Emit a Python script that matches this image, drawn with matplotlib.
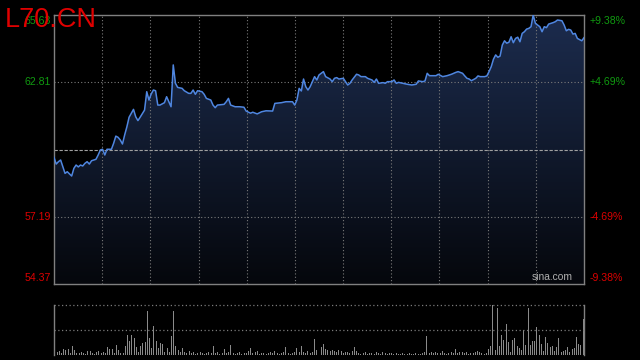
import matplotlib
matplotlib.use('Agg')
import matplotlib.pyplot as plt
import matplotlib.transforms as mtransforms
from matplotlib.colors import LinearSegmentedColormap
import numpy as np

plt.rcParams['font.family'] = ['Liberation Sans', 'DejaVu Sans']

symbol = "L70.CN"
prev_close = 60.00
price_low, price_high = 54.37, 65.63
price_ticks = [65.63, 62.81, 57.19, 54.37]
pct_ticks = ["+9.38%", "+4.69%", "-4.69%", "-9.38%"]

# minute index (0..240) of the intraday line and the price at that minute
minutes = [0, 1, 2, 3, 5, 6, 8, 9, 10, 11, 12, 13, 14, 15, 16, 17, 19, 20, 21, 22,
           23, 24, 26, 27, 28, 29, 30, 31, 32, 33, 34, 36, 37, 38, 39, 41, 42, 43, 44, 45,
           46, 47, 48, 50, 51, 52, 53, 54, 55, 56, 58, 59, 61, 62, 63, 64, 65, 67, 68, 69,
           71, 72, 73, 74, 77, 78, 79, 80, 82, 84, 86, 87, 89, 90, 92, 94, 96, 99, 100, 103,
           105, 108, 109, 110, 111, 112, 113, 114, 115, 116, 118, 119, 120, 122, 123, 125, 126, 127, 128, 129,
           131, 132, 133, 134, 135, 137, 138, 139, 141, 142, 144, 145, 146, 147, 149, 150, 151, 153, 154, 155,
           156, 158, 160, 162, 164, 165, 167, 168, 169, 170, 173, 174, 176, 178, 180, 182, 183, 185, 186, 187,
           188, 189, 191, 192, 193, 195, 196, 197, 198, 199, 200, 201, 202, 203, 204, 205, 206, 207, 208, 209,
           210, 211, 212, 213, 214, 215, 216, 217, 218, 219, 220, 221, 222, 223, 224, 226, 227, 228, 230, 231,
           232, 233, 234, 235, 236, 237, 239, 240]
prices = [59.67, 59.39, 59.49, 59.56, 59.00, 59.07, 58.89, 59.21, 59.35, 59.27, 59.35, 59.31, 59.42, 59.49, 59.39, 59.53, 59.59, 59.77, 59.98, 60.01,
          59.77, 60.01, 60.01, 60.26, 60.56, 60.51, 60.40, 60.23, 60.61, 60.95, 61.35, 61.68, 61.37, 61.21, 61.35, 61.65, 62.42, 62.07, 62.32, 62.49,
          62.46, 61.86, 61.86, 61.96, 62.21, 62.00, 61.79, 63.54, 62.77, 62.60, 62.56, 62.46, 62.35, 62.35, 62.49, 62.31, 62.46, 62.42, 62.31, 62.14,
          62.07, 61.86, 61.75, 61.86, 61.89, 62.00, 62.14, 61.86, 61.79, 61.79, 61.77, 61.61, 61.52, 61.56, 61.49, 61.58, 61.62, 61.61, 61.93, 61.96,
          62.00, 62.00, 61.86, 62.07, 62.56, 62.45, 62.95, 62.63, 62.49, 62.63, 63.05, 62.91, 63.12, 63.26, 63.05, 62.95, 62.84, 62.98, 63.01, 62.95,
          62.98, 62.84, 62.70, 62.77, 62.91, 63.15, 63.12, 63.05, 63.05, 62.98, 62.91, 62.81, 62.95, 62.77, 62.80, 62.77, 62.84, 62.84, 62.91, 62.77,
          62.81, 62.77, 62.73, 62.70, 62.73, 62.87, 62.84, 62.87, 63.19, 63.09, 63.09, 63.15, 63.05, 63.09, 63.15, 63.23, 63.26, 63.19, 63.08, 62.98,
          62.95, 62.88, 62.98, 63.08, 63.05, 63.05, 63.08, 63.26, 63.47, 63.78, 63.96, 63.86, 63.91, 64.37, 64.55, 64.45, 64.49, 64.72, 64.47, 64.65,
          64.70, 64.51, 64.86, 64.93, 65.04, 65.07, 65.14, 65.63, 65.28, 65.21, 65.14, 64.93, 65.14, 65.10, 65.25, 65.31, 65.35, 65.42, 65.39, 65.21,
          64.97, 65.03, 65.00, 64.83, 64.86, 64.65, 64.55, 64.68]

# volume per minute (relative units, max = 50)
volume = [7, 3, 4, 2, 6, 5, 6, 2, 9, 5,
          2, 2, 3, 2, 1, 4, 4, 2, 1, 3,
          4, 2, 3, 2, 8, 6, 6, 2, 10, 5,
          2, 2, 9, 20, 14, 20, 17, 8, 3, 9,
          12, 13, 44, 17, 7, 29, 14, 7, 12, 11,
          3, 7, 3, 19, 44, 9, 5, 3, 7, 3,
          2, 4, 2, 3, 1, 2, 3, 2, 1, 2,
          3, 2, 9, 2, 3, 1, 2, 6, 2, 3,
          10, 2, 1, 2, 3, 1, 2, 2, 4, 7,
          2, 3, 4, 1, 2, 2, 1, 2, 3, 2,
          4, 2, 1, 2, 3, 8, 2, 1, 2, 3,
          7, 3, 9, 3, 2, 4, 2, 3, 16, 5,
          14, 8, 11, 6, 5, 4, 5, 4, 3, 5,
          4, 2, 3, 3, 2, 4, 8, 4, 2, 1,
          2, 3, 1, 2, 2, 1, 3, 2, 1, 3,
          2, 1, 2, 2, 1, 2, 1, 1, 2, 1,
          1, 2, 1, 1, 2, 1, 1, 2, 3, 19,
          2, 3, 2, 3, 2, 2, 4, 2, 1, 2,
          3, 2, 6, 2, 3, 3, 2, 3, 1, 2,
          2, 3, 4, 3, 2, 1, 2, 6, 9, 50,
          5, 47, 9, 20, 15, 31, 13, 3, 15, 17,
          9, 7, 5, 25, 10, 47, 10, 14, 14, 28,
          20, 11, 4, 18, 12, 8, 9, 4, 8, 17,
          3, 4, 5, 8, 3, 6, 7, 18, 11, 10,
          36]

GREEN = '#109a10'
RED = '#dd0000'
FRAME = '#808080'
GRID = '#7a7a7a'

fig = plt.figure(figsize=(6.4, 3.6), dpi=100, facecolor='black')
ax = fig.add_axes([54 / 640, 76 / 360, 530 / 640, 269 / 360], facecolor='black')
axv = fig.add_axes([54 / 640, 5 / 360, 530 / 640, 50 / 360], facecolor='black')

# price area with vertical gradient
poly = ax.fill_between(minutes, prices, price_low, facecolor='none', edgecolor='none')
cmap = LinearSegmentedColormap.from_list('fade', ['#05070c', '#1c2c4e'])
grad = np.linspace(1, 0, 256).reshape(-1, 1)
im = ax.imshow(grad, cmap=cmap, aspect='auto', origin='upper',
               extent=[0, 240, price_low, price_high], zorder=1)
im.set_clip_path(poly.get_paths()[0], transform=ax.transData)
ax.plot(minutes, prices, color='#4f86e0', lw=1.1, zorder=4)

ax.set_xlim(0, 240)
ax.set_ylim(price_low, price_high)
for k in range(1, 11):
    ax.axvline(240 * k / 11, color=GRID, lw=0.8, ls=(0, (1, 2)), zorder=2)
for v in (price_ticks[1], price_ticks[2]):
    ax.axhline(v, color=GRID, lw=0.8, ls=(0, (1, 2)), zorder=2)
ax.axhline(prev_close, color='#a0a0a0', lw=0.8, ls=(0, (3, 1.5)), zorder=2)

ax.set_xticks([])
ax.set_yticks([])
for s in ax.spines.values():
    s.set_color(FRAME)
    s.set_linewidth(1)

# axis labels
trans = mtransforms.blended_transform_factory(ax.transAxes, ax.transData)
colors = [GREEN, GREEN, RED, RED]
valign = ['top', 'center', 'center', 'bottom']
offs = [-0.06, 0, 0, 0.04]
for v, p, c, va, o in zip(price_ticks, pct_ticks, colors, valign, offs):
    ax.text(-0.0057, v + o, f"{v:.2f}", transform=trans, ha='right', va=va,
            color=c, fontsize=7.6, clip_on=False)
    ax.text(1.0113, v + o, p, transform=trans, ha='left', va=va,
            color=c, fontsize=7.6, clip_on=False)

ax.text(0.979, 0.006, "sina.com", transform=ax.transAxes, ha='right', va='bottom',
        color='#b0b0b0', fontsize=7.4, zorder=5)

# volume panel
x_vol = np.arange(len(volume))
axv.bar(x_vol, volume, width=0.45, color='#8a8a8a', linewidth=0)
axv.set_xlim(-0.4, 240.4)
axv.set_ylim(0, 50)
axv.axhline(50, color=GRID, lw=0.9, ls=(0, (1, 2)), clip_on=False)
axv.axhline(25, color=GRID, lw=0.9, ls=(0, (1, 2)))
axv.set_xticks([])
axv.set_yticks([])
for side in ('top', 'bottom'):
    axv.spines[side].set_visible(False)
for side in ('left', 'right'):
    axv.spines[side].set_color(FRAME)
    axv.spines[side].set_linewidth(1)

fig.text(5 / 640, 1 - 7 / 360, symbol, color='#e00000', fontsize=19.5,
         ha='left', va='top')

fig.savefig('out.png', dpi=100, facecolor='black')
